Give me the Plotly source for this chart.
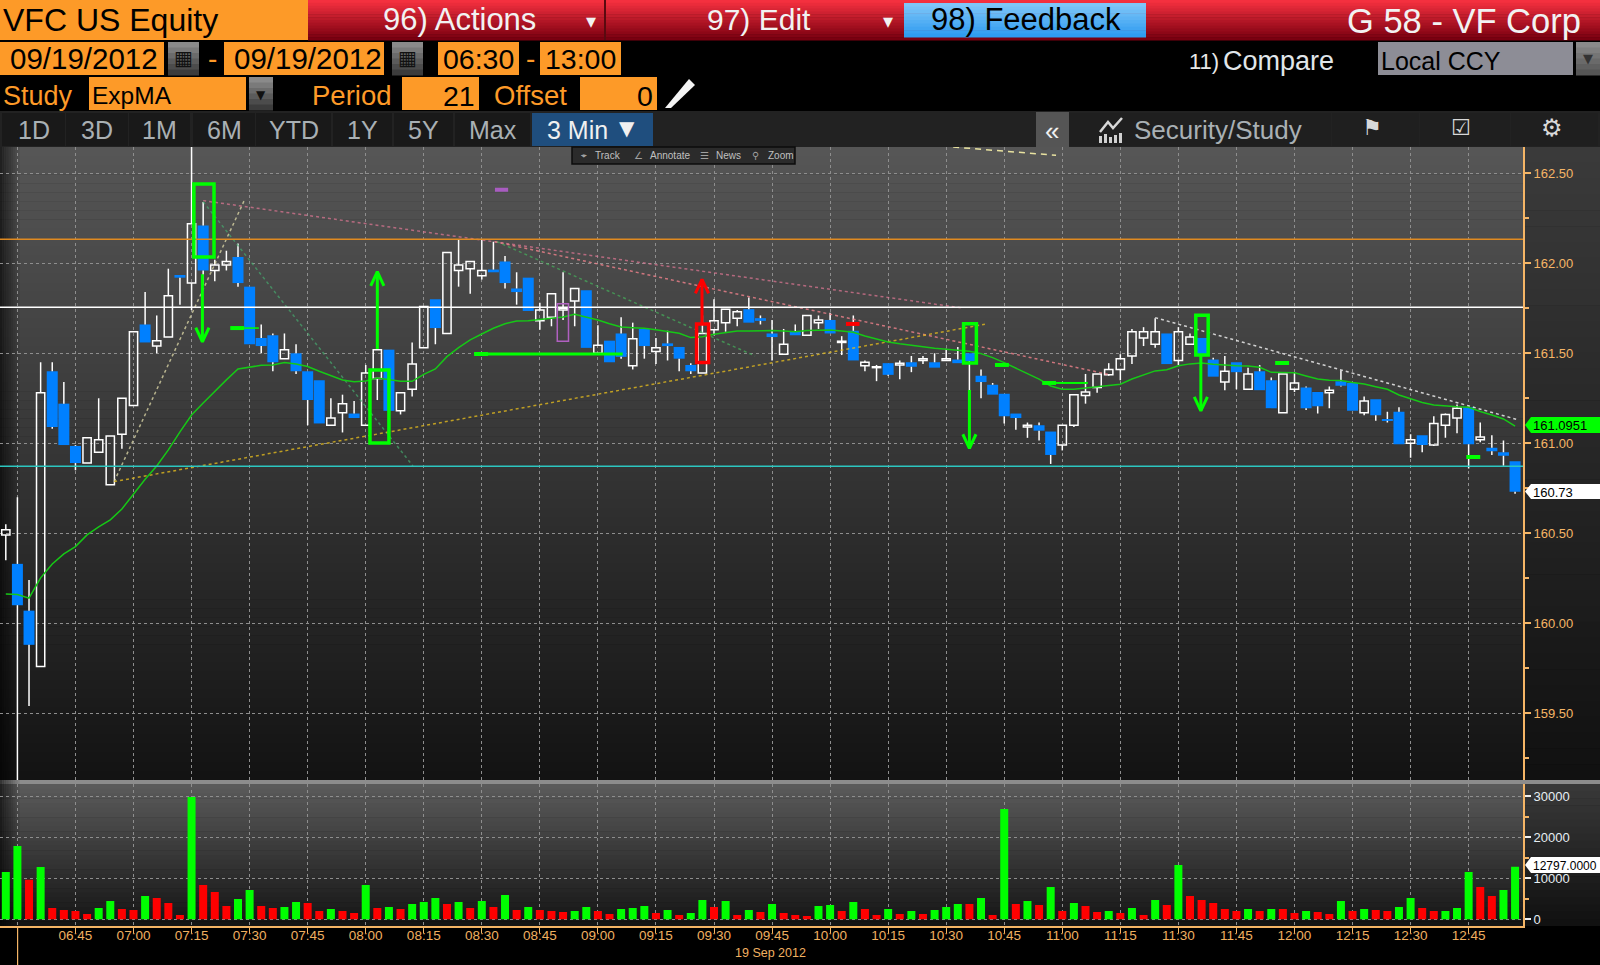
import pandas as pd
import plotly.graph_objects as go

W, H = 1600, 965
DAY = pd.Timestamp("2012-09-19 06:30")

# candles, first one is the 06:27 bar
opens = [160.49, 160.33, 160.07, 159.76, 161.40, 161.22, 160.985, 160.89, 160.95, 160.77, 161.05, 161.21, 161.66, 161.54, 161.59, 161.935, 161.89, 162.21, 161.96, 161.99,
         162.035, 161.87, 161.585, 161.60, 161.47, 161.50, 161.40, 161.35, 161.10, 161.17, 161.165, 161.10, 161.36, 161.52, 161.18, 161.30, 161.53, 161.80, 161.61, 161.96,
         161.97, 161.93, 161.965, 162.01, 161.86, 161.92, 161.68, 161.70, 161.74, 161.79, 161.85, 161.50, 161.57, 161.61, 161.43, 161.635, 161.51, 161.555, 161.535, 161.435,
         161.39, 161.63, 161.67, 161.695, 161.745, 161.695, 161.61, 161.495, 161.62, 161.60, 161.67, 161.685, 161.56, 161.625, 161.43, 161.42, 161.445, 161.435, 161.45, 161.46,
         161.45, 161.46, 161.465, 161.50, 161.375, 161.325, 161.275, 161.165, 161.09, 161.10, 161.065, 160.99, 161.10, 161.265, 161.31, 161.38, 161.41, 161.485, 161.585, 161.55,
         161.61, 161.46, 161.55, 161.585, 161.465, 161.34, 161.45, 161.30, 161.40, 161.35, 161.17, 161.30, 161.31, 161.285, 161.28, 161.345, 161.335, 161.17, 161.245, 161.135,
         161.175, 161.00, 161.045, 160.99, 161.10, 161.14, 161.20, 161.02, 160.975, 160.95, 160.90]
highs = [160.55, 160.70, 160.24, 161.45, 161.45, 161.34, 160.99, 161.03, 161.25, 161.04, 161.25, 161.62, 161.84, 161.71, 161.97, 161.935, 162.75, 162.34, 162.02, 162.07,
         162.11, 161.87, 161.66, 161.61, 161.61, 161.55, 161.40, 161.35, 161.25, 161.27, 161.235, 161.435, 161.52, 161.52, 161.28, 161.56, 161.76, 161.80, 162.06, 162.13,
         162.01, 162.13, 162.12, 162.04, 161.95, 161.92, 161.78, 161.83, 161.95, 161.86, 161.85, 161.655, 161.57, 161.70, 161.67, 161.635, 161.585, 161.625, 161.535, 161.445,
         161.71, 161.80, 161.745, 161.74, 161.81, 161.71, 161.685, 161.635, 161.66, 161.71, 161.71, 161.725, 161.595, 161.71, 161.46, 161.435, 161.445, 161.46, 161.485, 161.485,
         161.50, 161.525, 161.535, 161.50, 161.41, 161.335, 161.275, 161.165, 161.115, 161.115, 161.065, 161.10, 161.27, 161.385, 161.385, 161.445, 161.495, 161.635, 161.645, 161.695,
         161.61, 161.645, 161.61, 161.585, 161.475, 161.485, 161.45, 161.42, 161.435, 161.365, 161.385, 161.395, 161.315, 161.285, 161.315, 161.405, 161.335, 161.26, 161.245, 161.175,
         161.20, 161.05, 161.045, 161.15, 161.165, 161.215, 161.20, 161.115, 161.045, 161.015, 160.90]
lows = [160.35, 159.00, 159.54, 159.76, 161.08, 160.99, 160.85, 160.89, 160.95, 160.77, 160.97, 161.21, 161.56, 161.50, 161.59, 161.77, 161.74, 161.88, 161.90, 161.96,
        161.87, 161.55, 161.50, 161.40, 161.47, 161.385, 161.10, 161.11, 161.10, 161.06, 161.14, 161.10, 161.24, 161.18, 161.16, 161.26, 161.53, 161.55, 161.61, 161.87,
        161.83, 161.91, 161.95, 161.86, 161.77, 161.735, 161.63, 161.65, 161.685, 161.65, 161.53, 161.50, 161.45, 161.47, 161.41, 161.47, 161.44, 161.46, 161.40, 161.385,
        161.39, 161.60, 161.62, 161.65, 161.67, 161.66, 161.46, 161.495, 161.60, 161.60, 161.635, 161.61, 161.49, 161.46, 161.40, 161.345, 161.375, 161.355, 161.395, 161.44,
        161.42, 161.46, 161.445, 161.29, 161.25, 161.27, 161.11, 161.075, 161.03, 161.015, 160.885, 160.96, 161.09, 161.22, 161.28, 161.375, 161.35, 161.44, 161.54, 161.53,
        161.44, 161.435, 161.55, 161.49, 161.37, 161.295, 161.30, 161.30, 161.295, 161.195, 161.17, 161.285, 161.185, 161.165, 161.195, 161.315, 161.18, 161.155, 161.125, 161.115,
        160.995, 160.92, 160.95, 160.985, 161.03, 161.055, 160.86, 161.005, 160.935, 160.875, 160.72]
closes = [160.52, 160.10, 159.88, 161.28, 161.09, 160.99, 160.89, 161.03, 161.02, 161.04, 161.25, 161.62, 161.56, 161.57, 161.82, 161.92, 162.22, 161.96, 161.99, 162.01,
          161.89, 161.55, 161.54, 161.45, 161.52, 161.40, 161.24, 161.11, 161.14, 161.22, 161.14, 161.39, 161.52, 161.18, 161.28, 161.44, 161.76, 161.64, 162.06, 161.99,
          162.01, 161.96, 161.95, 161.89, 161.84, 161.735, 161.74, 161.83, 161.75, 161.86, 161.53, 161.545, 161.45, 161.48, 161.58, 161.54, 161.53, 161.54, 161.47, 161.40,
          161.61, 161.68, 161.745, 161.73, 161.67, 161.68, 161.59, 161.55, 161.60, 161.71, 161.685, 161.61, 161.567, 161.46, 161.45, 161.425, 161.38, 161.445, 161.425, 161.47,
          161.42, 161.47, 161.445, 161.457, 161.34, 161.27, 161.15, 161.14, 161.10, 161.07, 160.935, 161.10, 161.27, 161.285, 161.385, 161.41, 161.47, 161.62, 161.62, 161.62,
          161.44, 161.62, 161.59, 161.49, 161.37, 161.40, 161.395, 161.385, 161.295, 161.195, 161.385, 161.335, 161.195, 161.205, 161.295, 161.32, 161.18, 161.235, 161.155, 161.125,
          160.995, 161.02, 160.99, 161.11, 161.16, 161.195, 160.995, 161.035, 160.955, 160.93, 160.73]
ema_vals = [160.163, 160.16, 160.139, 160.252, 160.329, 160.385, 160.426, 160.491, 160.535, 160.574, 160.635, 160.718, 160.80, 160.874, 160.963, 161.063, 161.157, 161.224, 161.29, 161.352,
            161.413, 161.421, 161.433, 161.435, 161.448, 161.44, 161.426, 161.40, 161.374, 161.352, 161.342, 161.346, 161.363, 161.354, 161.344, 161.344, 161.383, 161.413, 161.481, 161.531,
            161.574, 161.607, 161.639, 161.664, 161.679, 161.681, 161.687, 161.696, 161.702, 161.717, 161.702, 161.685, 161.664, 161.646, 161.642, 161.639, 161.631, 161.62, 161.611, 161.587,
            161.592, 161.606, 161.617, 161.624, 161.624, 161.626, 161.626, 161.624, 161.62, 161.626, 161.629, 161.629, 161.624, 161.617, 161.596, 161.578, 161.563, 161.553, 161.544, 161.539,
            161.528, 161.522, 161.517, 161.511, 161.498, 161.476, 161.448, 161.417, 161.383, 161.356, 161.318, 161.30, 161.30, 161.306, 161.313, 161.32, 161.328, 161.357, 161.379, 161.402,
            161.409, 161.431, 161.441, 161.446, 161.439, 161.433, 161.431, 161.429, 161.422, 161.394, 161.392, 161.392, 161.374, 161.357, 161.35, 161.348, 161.337, 161.329, 161.314, 161.30,
            161.268, 161.246, 161.226, 161.213, 161.206, 161.203, 161.20, 161.176, 161.157, 161.135, 161.0951]
volumes = [11545, 17886, 9675, 12764, 2764, 2276, 2032, 1300, 2764, 4472, 2520, 2276, 5691, 5203, 3984, 1057, 29837, 8374, 6667, 3252,
           4959, 7154, 3252, 2764, 3008, 4228, 3984, 2032, 2520, 2032, 1545, 8374, 2764, 3008, 2520, 3740, 4228, 5203, 3740, 4228,
           2764, 4472, 3008, 5935, 2276, 3008, 2276, 2032, 1789, 2032, 3008, 2032, 1300, 2520, 2764, 3252, 1545, 2276, 1057, 1545,
           4715, 3008, 4472, 1057, 2276, 1789, 3740, 1545, 1057, 813, 3252, 3496, 2032, 4228, 2520, 1057, 2520, 1300, 2032, 1300,
           2276, 3008, 3740, 3740, 5203, 1057, 26911, 3740, 4472, 3496, 7886, 2032, 3984, 3252, 1789, 2032, 1545, 2764, 1057, 4715,
           3496, 13252, 5691, 4715, 3984, 2520, 2032, 2520, 2032, 2520, 2520, 1545, 2032, 1789, 1300, 4472, 2032, 2520, 2276, 2032,
           3008, 5203, 2764, 2032, 2032, 2764, 11545, 7886, 5691, 7154, 12797]
vol_dir = list("ggrg" "rrrr" "ggrr" "grrr" "grrr" "ggrr" "ggrr" "grrg" "rgrg" "ggrg" "rgrg" "rg"
               "rrrgg" "rrggg" "rgrgg" "rgrgr" "grrrg" "grgrr" "grgrg" "ggrgr" "grgrg"
               "rgrrg" "rgrgr" "grrrr" "rgrgr" "rgrrg" "rgrrg" "grrgg" "grrgg")

# time axis
tick_times = ["06:30", "06:45", "07:00", "07:15", "07:30", "07:45", "08:00", "08:15", "08:30", "08:45", "09:00", "09:15", "09:30",
              "09:45", "10:00", "10:15", "10:30", "10:45", "11:00", "11:15", "11:30", "11:45", "12:00", "12:15", "12:30", "12:45"]
tick_labels = [""] + tick_times[1:]
price_ticks = [159.5, 160.0, 160.5, 161.0, 161.5, 162.0, 162.5]
price_labels = ["159.50", "160.00", "160.50", "161.00", "161.50", "162.00", "162.50"]
vol_ticks = [0, 10000, 20000, 30000]

# drawn study lines: minutes from 06:30, price
trend_beige = ([25.0, 58.6], [160.787, 162.348])
trend_pink1 = ([48.0, 244.0], [162.348, 161.752])
trend_pink2 = ([123.4, 281.8], [162.12, 161.383])
trend_green1 = ([48.0, 102.2], [162.342, 160.874])
trend_green2 = ([123.9, 190.6], [162.12, 161.485])
trend_yellow = ([25.0, 250.0], [160.787, 161.661])
trend_top = ([241.8, 268.4], [162.646, 162.60])
trend_white = ([294.0, 388.0], [161.698, 161.129])
level_orange = 162.133
level_white = 161.756
level_teal = 160.872


def t(m):
    return (DAY + pd.Timedelta(minutes=m)).strftime("%Y-%m-%d %H:%M:%S")


def ts(minutes):
    return [None if m is None else t(m) for m in minutes]


def px(x):
    return x / W


def py(y):
    return 1 - y / H


bar_times = [t(3 * i) for i in range(-1, len(opens) - 1)]
shapes = []
notes = []


def hexrgb(c):
    return [int(c[i:i + 2], 16) for i in (1, 3, 5)]


def box(x0, x1, y0, y1, color, layer="below", line=None, lw=1):
    shapes.append(dict(type="rect", xref="paper", yref="paper", x0=px(x0), x1=px(x1), y0=py(y0), y1=py(y1),
                       fillcolor=color, layer=layer, line=dict(width=lw if line else 0, color=line)))


def vgrad(x0, x1, y0, y1, c0, c1, n):
    a, b = hexrgb(c0), hexrgb(c1)
    for k in range(n):
        f = k / max(n - 1, 1)
        col = "rgb(%d,%d,%d)" % tuple(round(a[j] + (b[j] - a[j]) * f) for j in range(3))
        box(x0, x1, y0 + (y1 - y0) * k / n, y0 + (y1 - y0) * (k + 1) / n + 0.5, col)


def label(x, y, text, size, color="#f2f2f2", anchor="left", family="Liberation Sans"):
    notes.append(dict(xref="paper", yref="paper", x=px(x), y=py(y), text=text, showarrow=False, xanchor=anchor,
                      yanchor="middle", borderpad=0, font=dict(size=size, color=color, family=family)))


ORANGE = "#fd9a28"

# header rows
box(0, W, 0, H, "#000000")
vgrad(308, W, 0, 40, "#f4303f", "#7a0010", 14)
box(0, 308, 0, 40, ORANGE)
box(604, 606, 0, 40, "#5a0a10")
vgrad(904, 1146, 3, 37, "#80c6f8", "#2f9cf0", 10)
label(2, 20, "VFC US Equity", 32, "#000000")
label(382, 19, "96) Actions", 31)
label(706, 19, "97) Edit", 30)
label(930, 19, "98) Feedback", 31, "#000000")
label(1582, 21, "G 58 - VF Corp", 34.5, anchor="right")
label(591, 21, "▾", 20, anchor="center")
label(888, 21, "▾", 20, anchor="center")

for x0, x1 in [(0, 164), (224, 384), (438, 519), (540, 621)]:
    box(x0, x1, 42, 75, ORANGE)
for x0, x1 in [(168, 199), (392, 423)]:
    vgrad(x0, x1, 42, 75, "#8a8a8a", "#3c3c3c", 6)
    label((x0 + x1) / 2, 58, "▦", 20, "#111111", "center", "DejaVu Sans")
label(9, 59, "09/19/2012", 29.5, "#000000")
label(212, 58, "-", 28, ORANGE, "center")
label(233, 59, "09/19/2012", 29.5, "#000000")
label(442, 59, "06:30", 28.5, "#000000")
label(530, 58, "-", 28, ORANGE, "center")
label(544, 59, "13:00", 28.5, "#000000")
label(1188, 61, "11)", 22, "#e8e8e8")
label(1222, 61, "Compare", 27, "#e0e6ea")
box(1378, 1573, 42, 75, "#8d8d96")
label(1380, 61, "Local CCY", 25, "#000000")
vgrad(1576, W, 42, 75, "#8a8a8a", "#555555", 6)
label(1588, 59, "▼", 13, "#333333", "center", "DejaVu Sans")

box(89, 246, 77, 110, ORANGE)
vgrad(249, 273, 77, 110, "#8a8a8a", "#3c3c3c", 6)
label(261, 95, "▼", 12, "#111111", "center", "DejaVu Sans")
box(402, 479, 77, 110, ORANGE)
box(580, 657, 77, 110, ORANGE)
label(2, 96, "Study", 27, ORANGE)
label(91, 96, "ExpMA", 24.5, "#000000")
label(311, 96, "Period", 27.5, ORANGE)
label(493, 96, "Offset", 27.5, ORANGE)
label(476, 96, "21", 28.5, "#000000", "right")
label(654, 96, "0", 28.5, "#000000", "right")
shapes.append(dict(type="path", xref="paper", yref="paper", layer="below", fillcolor="#f4f4f4", line=dict(width=0),
                   path="M %f %f L %f %f L %f %f L %f %f Z" % (px(665), py(108), px(689), py(79), px(695), py(85), px(671), py(108))))

# period tabs
box(0, W, 111, 147, "#222222")
tabs = ["1D", "3D", "1M", "6M", "YTD", "1Y", "5Y", "Max"]
tab_edges = [(2, 65), (66, 128), (129, 190), (193, 255), (256, 331), (333, 392), (394, 453), (455, 530)]
for name, (x0, x1) in zip(tabs, tab_edges):
    box(x0, x1, 113, 146, "#191919")
    label((x0 + x1) / 2, 130, name, 25, "#a9b0b4", "center")
box(532, 653, 113, 146, "#1f4e7e")
label(546, 130, "3 Min", 25, "#f0f0f0")
label(627, 128, "▼", 20, "#f0f0f0", "center", "DejaVu Sans")
box(1036, 1069, 112, 147, "#555555")
label(1052, 131, "«", 26, "#f0f0f0", "center")
for x0, x1 in [(1069, 1331), (1332, 1419), (1420, 1510), (1511, 1598)]:
    box(x0, x1, 113, 146, "#1f1f1f")
label(1133, 130, "Security/Study", 26, "#a9b0b4")
shapes.append(dict(type="path", xref="paper", yref="paper", layer="below", fillcolor="rgba(0,0,0,0)", line=dict(width=2.5, color="#d8d8d8"),
                   path="M %f %f L %f %f L %f %f L %f %f" % (px(1100), py(132), px(1108), py(122), px(1113), py(128), px(1122), py(118))))
for bx, by in [(1099, 136), (1104, 134), (1109, 137), (1114, 135), (1119, 133)]:
    box(bx, bx + 3, by, 143, "#d0d0d0")
label(1372, 128, "⚑", 22, "#d8d8d8", "center", "DejaVu Sans")
label(1461, 128, "☑", 22, "#d8d8d8", "center", "DejaVu Sans")
label(1552, 128, "⚙", 24, "#d8d8d8", "center", "DejaVu Sans")

# panel backgrounds
vgrad(0, 1523, 147, 780, "#565656", "#131313", 70)
vgrad(1523, W, 147, 780, "#3a3a3a", "#111111", 40)
box(0, W, 780, 784, "#8c8c8c")
vgrad(0, 1523, 784, 926, "#5a5a5a", "#151515", 30)
vgrad(1523, W, 784, 926, "#383838", "#111111", 20)
for k in range(9):
    box(k * 2.2, (k + 1) * 2.2, 147, 926, "rgba(0,0,0,%.2f)" % (0.62 - k * 0.07))
box(0, W, 926, H, "#000000")
box(17, 18.2, 926, H, "#f5b566")

# popup over the chart
box(572, 795, 147, 164, "#2b2b2b", "above", "#0c0c0c", 1.5)
for x, s, x2, name in [(584, "⌖", 594, "Track"), (638, "∠", 649, "Annotate"), (704, "☰", 715, "News"), (755, "⚲", 767, "Zoom")]:
    label(x, 156, s, 10, "#a0a0a0", "center", "DejaVu Sans")
    label(x2, 156, name, 10, "#c0c0c0")

label(770, 953, "19 Sep 2012", 12.5, "#f0b060", "center")

# value boxes at the price scale
flag = "M %f %f L %f %f L %f %f L %f %f L %f %f Z"
for y0, y1, col, txt, sz in [(417, 433, "#00ff00", "161.0951", 13), (484, 499, "#ffffff", "160.73", 13), (857, 873, "#ffffff", "12797.0000", 12)]:
    shapes.append(dict(type="path", xref="paper", yref="paper", layer="above", fillcolor=col, line=dict(width=0),
                       path=flag % (px(1525), py((y0 + y1) / 2), px(1531), py(y0), px(W), py(y0), px(W), py(y1), px(1531), py(y1))))
    label(1532, (y0 + y1) / 2 + 0.5, txt, sz, "#000000")

fig = go.Figure()

# candle bodies
up = [i for i in range(len(opens)) if closes[i] >= opens[i]]
dn = [i for i in range(len(opens)) if closes[i] < opens[i]]
fig.add_trace(go.Bar(x=[bar_times[i] for i in up], y=[closes[i] - opens[i] for i in up], base=[opens[i] for i in up],
                     width=128000, marker=dict(color="rgba(0,0,0,0)", line=dict(color="#ffffff", width=1.5))))
fig.add_trace(go.Bar(x=[bar_times[i] for i in dn], y=[opens[i] - closes[i] for i in dn], base=[closes[i] for i in dn],
                     width=170500, marker=dict(color="#0080ff", line=dict(width=0))))

# wicks stop at the body so hollow candles stay hollow
wx, wy = [], []
for i in range(len(opens)):
    top, bot = max(opens[i], closes[i]), min(opens[i], closes[i])
    wx += [bar_times[i], bar_times[i], None, bar_times[i], bar_times[i], None]
    wy += [highs[i], top, None, bot, lows[i], None]
fig.add_trace(go.Scatter(x=wx, y=wy, mode="lines", line=dict(color="#ffffff", width=1.5)))


def study(line, color, width=1.5, dash="dot"):
    fig.add_trace(go.Scatter(x=ts(line[0]), y=line[1], mode="lines", line=dict(color=color, width=width, dash=dash)))


study(trend_beige, "rgba(226,220,170,0.75)")
study(trend_pink1, "rgba(226,120,150,0.7)")
study(trend_pink2, "rgba(240,130,140,0.8)")
study(trend_green1, "rgba(70,170,110,0.7)")
study(trend_green2, "rgba(70,170,90,0.75)")
study(trend_yellow, "rgba(225,185,30,0.8)")
study(trend_top, "#e8e2a0", 1.5, "6px,5px")
study(trend_white, "rgba(235,235,235,0.85)")

fig.add_trace(go.Scatter(x=bar_times, y=ema_vals, mode="lines", line=dict(color="#16c816", width=1.5)))

for level, col in [(level_orange, "#e08a20"), (level_white, "#ffffff"), (level_teal, "#2cc6c0")]:
    fig.add_trace(go.Scatter(x=[t(-4.5), t(389.1)], y=[level, level], mode="lines", line=dict(color=col, width=1.5)))


def tick(m0, m1, p, color="#00ff00", width=4):
    study(([m0, m1], [p, p]), color, width, "solid")


tick(55.0, 58.6, 161.64)
tick(58.6, 62.4, 161.64, width=1.5)
tick(118.0, 121.6, 161.496)
tick(121.6, 156.4, 161.496, width=3)
tick(252.6, 256.2, 161.435)
tick(264.8, 268.4, 161.335)
tick(268.4, 276.6, 161.335, width=2)
tick(325.0, 328.6, 161.446)
tick(374.4, 378.0, 160.924)
tick(214.1, 217.6, 161.663, "#ff0000")
tick(123.4, 126.8, 162.408, "#a85cc0")


def arrow(m, p0, p1, color="#00ff00"):
    d = -0.078 if p1 > p0 else 0.078
    xs = [m, m, None, m - 1.7, m, m + 1.7]
    ys = [p0, p1, None, p1 + d, p1, p1 + d]
    fig.add_trace(go.Scatter(x=ts(xs), y=ys, mode="lines", line=dict(color=color, width=3)))


arrow(47.8, 161.939, 161.564)
arrow(93.0, 161.524, 161.953)
arrow(176.9, 161.667, 161.911, "#ff0000")
arrow(246.0, 161.296, 160.972)
arrow(305.8, 161.485, 161.18)


def mark(m0, m1, p0, p1, color="#00ff00", width=3.5):
    shapes.append(dict(type="rect", xref="x", yref="y", x0=t(m0), x1=t(m1), y0=p0, y1=p1, layer="above",
                       line=dict(color=color, width=width), fillcolor="rgba(0,0,0,0)"))


mark(45.6, 50.8, 162.44, 162.035)
mark(91.1, 96.0, 161.407, 161.002)
mark(175.5, 178.6, 161.663, 161.448, "#ff0000")
mark(244.5, 247.8, 161.664, 161.446)
mark(304.5, 307.7, 161.711, 161.49)
mark(139.5, 142.4, 161.775, 161.567, "#b060c0", 1.5)

# volume
fig.add_trace(go.Bar(x=bar_times, y=volumes, width=124000, xaxis="x2", yaxis="y2",
                     marker=dict(color=["#00ff00" if d == "g" else "#ff0000" for d in vol_dir], line=dict(width=0))))

grid = dict(showgrid=True, gridcolor="#8e8e8e", griddash="3px,3px", gridwidth=1, zeroline=False)
x_range = [t(-4.5), t(389.1)]
tickvals = ["2012-09-19 " + s for s in tick_times]
fig.update_layout(
    width=W, height=H, autosize=False, margin=dict(l=0, r=0, t=0, b=0), showlegend=False, barmode="overlay",
    paper_bgcolor="#000000", plot_bgcolor="rgba(0,0,0,0)", font=dict(family="Liberation Sans", size=13),
    hovermode=False, shapes=shapes, annotations=notes,
    xaxis=dict(type="date", domain=[0, 1523.2 / W], range=x_range, anchor="y", tickvals=tickvals, showticklabels=False, ticks="", **grid),
    xaxis2=dict(type="date", domain=[0, 1523.2 / W], range=x_range, anchor="y2", tickvals=tickvals, ticktext=tick_labels, ticks="outside",
                ticklen=5, tickcolor="#f5b566", showline=True, linecolor="#f5b566", linewidth=2, tickfont=dict(size=13.5, color="#f0b060"),
                ticklabelstandoff=-9, **grid),
    yaxis=dict(domain=[py(780), py(147)], range=[159.129, 162.646], side="right", anchor="x", tickvals=price_ticks, ticktext=price_labels,
               ticks="outside", ticklen=6, tickwidth=1.5, tickcolor="#f5b566", showline=True, linecolor="#f5b566", linewidth=1.5,
               tickfont=dict(size=13, color="#f5b566"), minor=dict(dtick=0.25, ticks="outside", ticklen=4, tickcolor="#f5b566", showgrid=False), **grid),
    yaxis2=dict(domain=[py(926), py(784)], range=[-1634, 33000], side="right", anchor="x2", tickvals=vol_ticks,
                ticks="outside", ticklen=6, tickwidth=1.5, tickcolor="#f0f0f0", showline=True, linecolor="#f5b566", linewidth=1.5,
                tickformat="d", tickfont=dict(size=13, color="#e6eef2"), minor=dict(dtick=5000, ticks="outside", ticklen=4, tickcolor="#f5b566", showgrid=False), **grid),
)

fig.write_html("out.html", config={"displayModeBar": False},
               post_script="document.body.style.margin='0';document.body.style.overflow='hidden';")
